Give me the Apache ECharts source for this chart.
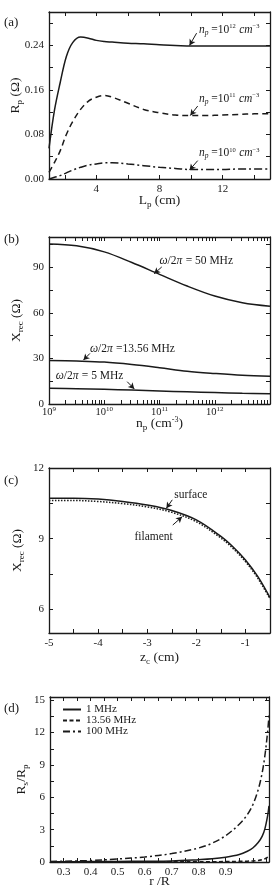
<!DOCTYPE html>
<html>
<head>
<meta charset="utf-8">
<script src="https://cdn.jsdelivr.net/npm/echarts@6/dist/echarts.min.js"></script>
<style>
  html, body { margin: 0; padding: 0; background: #fff; }
  #chart { width: 273px; height: 888px; }
</style>
</head>
<body>
<div id="chart"></div>
<script>
// (a) Rp vs Lp
var aX = [1, 1.35, 1.7, 2.1, 2.5, 3, 3.5, 4, 4.5, 5, 6, 7, 8, 9, 10, 11, 12, 13, 14, 15];
var aNp12 = [0.055, 0.124, 0.172, 0.22, 0.245, 0.255, 0.253, 0.249, 0.247, 0.246, 0.244, 0.243, 0.241, 0.240, 0.239, 0.239, 0.239, 0.239, 0.239, 0.239];
var aNp11 = [0.012, 0.03, 0.05, 0.08, 0.103, 0.125, 0.14, 0.147, 0.15, 0.147, 0.136, 0.125, 0.119, 0.115, 0.114, 0.114, 0.115, 0.116, 0.117, 0.117];
var aNp10 = [0.0, 0.003, 0.006, 0.011, 0.016, 0.021, 0.025, 0.027, 0.029, 0.029, 0.027, 0.024, 0.021, 0.019, 0.017, 0.017, 0.017, 0.018, 0.018, 0.018];
var aXLabels = [4, 8, 12];
var aYLabels = [0, 0.08, 0.16, 0.24];

// (b) Xrec vs np
var bX = [1e9, 3.16e9, 1e10, 3.16e10, 1e11, 3.16e11, 1e12, 3.16e12, 1e13];
var b50 = [105.4, 104.2, 100.2, 93.2, 85.4, 77.7, 71.1, 66.7, 64.4];
var b1356 = [28.7, 28.3, 27.6, 26.0, 23.9, 21.6, 20.1, 18.9, 18.3];
var b5 = [10.3, 10.1, 9.7, 9.2, 8.6, 8.0, 7.5, 7.1, 6.8];
var bXLabels = [1e9, 1e10, 1e11, 1e12];
var bYLabels = [0, 30, 60, 90];

// (c) Xrec vs zc
var cX = [-5, -4.5, -4, -3.5, -3, -2.5, -2, -1.5, -1.25, -1, -0.75, -0.5];
var cSurface = [10.72, 10.72, 10.68, 10.58, 10.43, 10.2, 9.8, 9.1, 8.65, 8.1, 7.4, 6.5];
var cFilament = [10.62, 10.62, 10.58, 10.49, 10.35, 10.12, 9.72, 9.03, 8.58, 8.03, 7.33, 6.45];
var cXLabels = [-5, -4, -3, -2, -1];
var cYLabels = [6, 9, 12];

// (d) Rs/Rp vs r/R
var dX = [0.25, 0.3, 0.4, 0.5, 0.6, 0.7, 0.8, 0.85, 0.9, 0.95, 0.98, 1.0, 1.02, 1.035, 1.045, 1.055, 1.06];
var d1 = [0.03, 0.03, 0.04, 0.05, 0.07, 0.1, 0.22, 0.3, 0.45, 0.7, 1.0, 1.3, 1.8, 2.4, 3.1, 4.3, 5.2];
var d1356 = [0.01, 0.01, 0.01, 0.01, 0.02, 0.02, 0.03, 0.03, 0.04, 0.06, 0.08, 0.1, 0.15, 0.22, 0.3, 0.45, 0.55];
var d100 = [0.05, 0.07, 0.14, 0.28, 0.47, 0.78, 1.3, 1.75, 2.45, 3.5, 4.4, 5.3, 6.7, 8.3, 9.9, 12.1, 13.6];
var dXLabels = [0.3, 0.4, 0.5, 0.6, 0.7, 0.8, 0.9];
var dYLabels = [0, 3, 6, 9, 12, 15];
var dNames = ['1 MHz', '13.56 MHz', '100 MHz'];

var FONT = 'Liberation Serif';
var INK = '#1a1a1a';
var rich = {
  i: { fontFamily: FONT, fontSize: 11.5, fontStyle: 'italic', color: INK },
  t: { fontFamily: FONT, fontSize: 11.5, color: INK },
  isub: { fontFamily: FONT, fontSize: 7.5, fontStyle: 'italic', color: INK, padding: [6, 0, 0, 0] },
  sup: { fontFamily: FONT, fontSize: 6.5, color: INK, padding: [0, 0, 7, 0] },
  l: { fontFamily: FONT, fontSize: 10.5, color: INK },
  ls: { fontFamily: FONT, fontSize: 7, color: INK, padding: [0, 0, 6, 0] }
};

function steps(a, b, s) {
  var out = [];
  for (var v = a; v <= b + 1e-9; v += s) out.push(+v.toFixed(4));
  return out;
}

function tickCfg(vals) {
  return { show: true, inside: true, length: 4, customValues: vals, lineStyle: { color: INK, width: 1 } };
}

var grids = [
  { left: 49, right: 3, top: 12, height: 167, outerBoundsMode: 'none' },
  { left: 49, right: 3, top: 237, height: 167, outerBoundsMode: 'none' },
  { left: 49, right: 3, top: 468, height: 165, outerBoundsMode: 'none' },
  { left: 50, right: 4, top: 697, height: 165, outerBoundsMode: 'none' }
];

var axisDefs = [
  { xType: 'value', xMin: 1, xMax: 15, xLab: aXLabels, xTicks: steps(2, 14, 2), xFmt: function (v) { return v; },
    yMin: 0, yMax: 0.3, yLab: aYLabels, yTicks: steps(0, 0.28, 0.04), yFmt: function (v) { return v.toFixed(2); },
    xName: 'L{sub|p} (cm)', yName: 'R{sub|p} (Ω)', xGap: 13, yGap: 25, xMargin: 5 },
  { xType: 'log', xMin: 1e9, xMax: 1e13, xLab: bXLabels,
    xTicks: [2e9,3e9,4e9,5e9,6e9,7e9,8e9,9e9,1e10,2e10,3e10,4e10,5e10,6e10,7e10,8e10,9e10,1e11,2e11,3e11,4e11,5e11,6e11,7e11,8e11,9e11,1e12,2e12,3e12,4e12,5e12,6e12,7e12,8e12,9e12],
    xFmt: function (v) { return '{l|10}{ls|' + Math.round(Math.log10(v)) + '}'; },
    yMin: 0, yMax: 110, yLab: bYLabels, yTicks: steps(0, 105, 15), yFmt: function (v) { return v; },
    xName: 'n{sub|p} (cm{sup|-3})', yName: 'X{sub|rec} (Ω)', xGap: 11, yGap: 24, xMargin: 2 },
  { xType: 'value', xMin: -5, xMax: -0.5, xLab: cXLabels, xTicks: steps(-5, -0.5, 0.5), xFmt: function (v) { return v; },
    yMin: 5, yMax: 12, yLab: cYLabels, yTicks: steps(6, 12, 1.5), yFmt: function (v) { return v; },
    xName: 'z{sub|c} (cm)', yName: 'X{sub|rec} (Ω)', xGap: 16, yGap: 23, xMargin: 5 },
  { xType: 'value', xMin: 0.25, xMax: 1.06, xLab: dXLabels, xTicks: steps(0.3, 1.05, 0.05), xFmt: function (v) { return v.toFixed(1); },
    yMin: 0, yMax: 15.3, yLab: dYLabels, yTicks: steps(0, 15, 1.5), yFmt: function (v) { return v; },
    xName: 'r /R', yName: 'R{sub|s}/R{sub|p}', xGap: 12, yGap: 20, xMargin: 5 }
];

var nameStyle = { fontFamily: FONT, fontSize: 13.5, color: INK, rich: {
  sub: { fontFamily: FONT, fontSize: 9, color: INK, padding: [8, 0, 0, 0] },
  sup: { fontFamily: FONT, fontSize: 8, color: INK, padding: [0, 0, 7, 0] }
} };

var xAxes = [], yAxes = [];
axisDefs.forEach(function (d, gi) {
  var line = { show: true, onZero: false, lineStyle: { color: INK, width: 1.3 } };
  var common = { gridIndex: gi, splitLine: { show: false }, axisLine: line };
  xAxes.push(Object.assign({}, common, {
    type: d.xType, logBase: 10, min: d.xMin, max: d.xMax, position: 'bottom',
    axisTick: tickCfg(d.xTicks.concat(d.xLab)),
    axisLabel: { customValues: d.xLab, formatter: d.xFmt, fontFamily: FONT, fontSize: 11, color: INK, margin: d.xMargin, rich: rich },
    name: d.xName, nameLocation: 'middle', nameGap: d.xGap, nameMoveOverlap: false, nameTextStyle: nameStyle
  }));
  xAxes.push(Object.assign({}, common, {
    type: d.xType, logBase: 10, min: d.xMin, max: d.xMax, position: 'top',
    axisTick: tickCfg(d.xTicks.concat(d.xLab)), axisLabel: { show: false }
  }));
  yAxes.push(Object.assign({}, common, {
    type: 'value', min: d.yMin, max: d.yMax, position: 'left',
    axisTick: tickCfg(d.yTicks),
    axisLabel: { customValues: d.yLab, formatter: d.yFmt, fontFamily: FONT, fontSize: 11, color: INK, margin: 5 },
    name: d.yName, nameLocation: 'middle', nameGap: d.yGap, nameRotate: 90, nameMoveOverlap: false, nameTextStyle: nameStyle
  }));
  yAxes.push(Object.assign({}, common, {
    type: 'value', min: d.yMin, max: d.yMax, position: 'right',
    axisTick: tickCfg(d.yTicks), axisLabel: { show: false }
  }));
});

function pairs(xs, ys) { return xs.map(function (x, i) { return [x, ys[i]]; }); }

function curve(name, gi, xs, ys, dash, extra) {
  return Object.assign({
    name: name, type: 'line', xAxisIndex: gi * 2, yAxisIndex: gi * 2,
    data: pairs(xs, ys), smooth: 0.35, symbol: 'none', silent: true,
    lineStyle: { color: INK, width: 1.5, type: dash }, itemStyle: { color: INK }
  }, extra || {});
}

// annotation: arrow + text, in data coords
function note(from, to, at, text) {
  return {
    markLine: {
      silent: true, symbol: ['none', 'arrow'], symbolSize: [5, 6],
      lineStyle: { color: INK, width: 1, type: 'solid' }, label: { show: false },
      data: [[{ coord: from }, { coord: to }]]
    },
    markPoint: {
      silent: true, symbol: 'circle', symbolSize: 0,
      label: { show: true, position: 'right', distance: 0, formatter: text, rich: rich },
      data: [{ coord: at }]
    }
  };
}

var npText = function (p) { return '{i|n}{isub|p}{t| =10}{sup|' + p + '} {i|cm}{sup|−3}'; };

var series = [
  curve('np12', 0, aX, aNp12, 'solid', note([10.35, 0.262], [9.9, 0.24], [10.5, 0.268], npText(12))),
  curve('np11', 0, aX, aNp11, [6, 4], note([10.42, 0.131], [9.95, 0.114], [10.5, 0.144], npText(11))),
  curve('np10', 0, aX, aNp10, [8, 3, 2, 3], note([10.42, 0.033], [9.9, 0.016], [10.5, 0.046], npText(10))),
  curve('f50', 1, bX, b50, 'solid', note([1.1e11, 90.3], [8e10, 85.8], [1.0e11, 94.4], '{i|ω}{t|/2}{i|π} {t|= 50 MHz}')),
  curve('f1356', 1, bX, b1356, 'solid', note([5.5e9, 33.3], [4.2e9, 28.9], [5.5e9, 36.4], '{i|ω}{t|/2}{i|π} {t|=13.56 MHz}')),
  curve('f5', 1, bX, b5, 'solid', note([2.6e10, 14.7], [3.5e10, 9.9], [1.32e9, 18.3], '{i|ω}{t|/2}{i|π} {t|= 5 MHz}')),
  curve('surface', 2, cX, cSurface, 'solid', note([-2.49, 10.65], [-2.61, 10.29], [-2.45, 10.86], '{t|surface}')),
  curve('filament', 2, cX, cFilament, [1.5, 1.5], note([-2.48, 9.58], [-2.29, 9.93], [-3.26, 9.08], '{t|filament}')),
  curve(dNames[0], 3, dX, d1, 'solid'),
  curve(dNames[1], 3, dX, d1356, [4, 2.5]),
  curve(dNames[2], 3, dX, d100, [7, 3, 2, 3])
];

var chart = echarts.init(document.getElementById('chart'), null, { renderer: 'canvas' });
chart.setOption({
  animation: false,
  backgroundColor: '#fff',
  grid: grids,
  xAxis: xAxes,
  yAxis: yAxes,
  legend: {
    data: dNames,
    orient: 'vertical', left: 62, top: 704, padding: 0,
    itemWidth: 18, itemHeight: 10, itemGap: 0, selectedMode: false,
    itemStyle: { opacity: 0 },
    textStyle: { fontFamily: FONT, fontSize: 11, color: INK }
  },
  graphic: [
    { type: 'text', left: 4, top: 16, style: { text: '(a)', fontFamily: FONT, fontSize: 13, fill: INK } },
    { type: 'text', left: 4, top: 233, style: { text: '(b)', fontFamily: FONT, fontSize: 13, fill: INK } },
    { type: 'text', left: 4, top: 474, style: { text: '(c)', fontFamily: FONT, fontSize: 13, fill: INK } },
    { type: 'text', left: 4, top: 702, style: { text: '(d)', fontFamily: FONT, fontSize: 13, fill: INK } }
  ],
  series: series
});
</script>
</body>
</html>
